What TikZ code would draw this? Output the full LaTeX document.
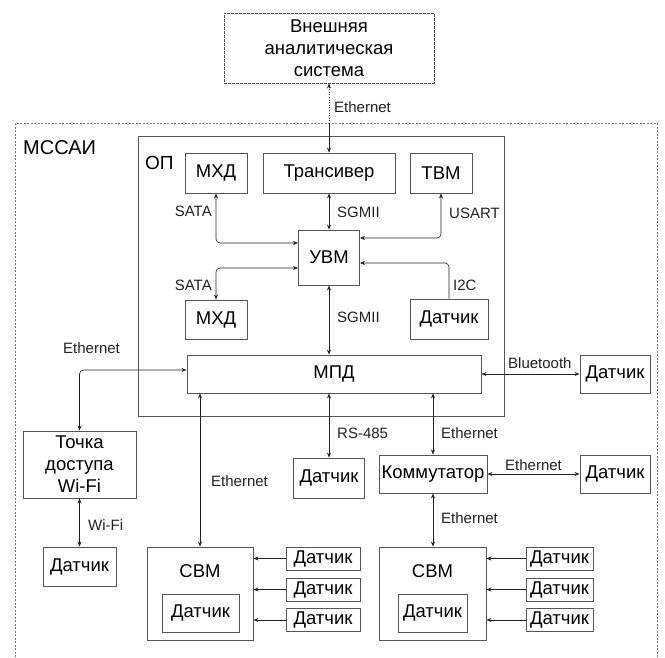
\documentclass[tikz,border=0pt]{standalone}
\usepackage{fontspec}
\setmainfont{Liberation Sans}
\usetikzlibrary{arrows.meta}
\definecolor{edgec}{HTML}{555555}
\definecolor{linec}{HTML}{222222}
\definecolor{framec}{HTML}{777777}
\begin{document}
\begin{tikzpicture}[x=1pt,y=-1pt,
  box/.style={draw=edgec, line width=0.9pt, inner sep=0pt, align=center,
    font=\fontsize{18.5}{22}\selectfont},
  plain/.style={inner sep=0pt, font=\fontsize{18.5}{22}\selectfont},
  lbl/.style={inner sep=0pt, text=linec, font=\fontsize{15}{17}\selectfont},
  conn/.style={draw=linec, line width=0.6pt, rounded corners=4pt},
  both/.style={conn, {Stealth[length=5pt,width=4pt]}-{Stealth[length=5pt,width=4pt]}},
  tip/.style={conn, -{Stealth[length=5pt,width=4pt]}},
  frame/.style={draw=framec, line width=0.7pt, dash pattern=on 2pt off 1.5pt}
]
\useasboundingbox (0,0) rectangle (665,657);
\fill[white] (0,0) rectangle (665,657);

% outer system frame (open at the bottom)
\draw[frame] (15,657) -- (15,123) -- (657,123) -- (657,657);
\node[plain, anchor=west, font=\fontsize{20}{22}\selectfont] (mssai) at (23,148) {МССАИ};

% external analytics system
\node[box, dash pattern=on 3pt off 1pt, minimum width=210, minimum height=70] (ext) at (329,48)
  {Внешняя\\аналитическая\\система};

% main board
\node[box, minimum width=366, minimum height=280] (op) at (321,276) {};
\node[plain, anchor=west, font=\fontsize{19}{22}\selectfont] (opt) at (145,163) {ОП};

\node[box, minimum width=62, minimum height=40] (mhd1) at (216,173) {МХД};
\node[box, minimum width=132, minimum height=40] (trans) at (329,173) {Трансивер};
\node[box, minimum width=62, minimum height=40] (tvm) at (441,173) {ТВМ};
\node[box, minimum width=61, minimum height=55] (uvm) at (329,257.5) {УВМ};
\node[box, minimum width=62, minimum height=39] (mhd2) at (216,319.5) {МХД};
\node[box, minimum width=78, minimum height=40] (di2c) at (449,319) {Датчик};
\node[box, minimum width=294, minimum height=38] (mpd) at (334,374) {МПД};

% peripheral devices
\node[box, minimum width=70, minimum height=38] (dbt) at (615,374) {Датчик};
\node[box, minimum width=113, minimum height=67] (ap) at (79.5,464.5) {Точка\\доступа\\Wi-Fi};
\node[box, minimum width=73, minimum height=39] (dwifi) at (79.5,566.5) {Датчик};
\node[box, minimum width=71, minimum height=40] (d485) at (329,478) {Датчик};
\node[box, minimum width=108, minimum height=38] (komm) at (433,474) {Коммутатор};
\node[box, minimum width=70, minimum height=38] (deth) at (615,474) {Датчик};

% secondary computing modules
\node[box, minimum width=106, minimum height=93] (cbm1) at (200,593.5) {};
\node[plain] (cbm1t) at (200,571) {СВМ};
\node[box, minimum width=77, minimum height=38] (cbm1d) at (200.5,613) {Датчик};
\node[box, minimum width=74, minimum height=23] (s1a) at (323,558.5) {Датчик};
\node[box, minimum width=74, minimum height=23] (s1b) at (323,589.5) {Датчик};
\node[box, minimum width=74, minimum height=23] (s1c) at (323,620) {Датчик};

\node[box, minimum width=107, minimum height=93] (cbm2) at (432.5,593.5) {};
\node[plain] (cbm2t) at (432.5,571) {СВМ};
\node[box, minimum width=69, minimum height=38] (cbm2d) at (432.5,613) {Датчик};
\node[box, minimum width=67, minimum height=23] (s2a) at (559.5,558.5) {Датчик};
\node[box, minimum width=67, minimum height=23] (s2b) at (559.5,589.5) {Датчик};
\node[box, minimum width=67, minimum height=23] (s2c) at (559.5,620) {Датчик};

% external link: dotted outside the frame, solid inside
\coordinate (cross) at (329,123);
\draw[conn, dotted, line width=0.7pt, {Stealth[length=5pt,width=4pt]}-] (ext.south) -- (cross);
\draw[tip] (cross) -- (trans.north);

% board internal links
\draw[both] (trans.south) -- (uvm.north);
\draw[both] (mhd1.south) |- ([yshift=14.5pt]uvm.west);
\draw[both] (tvm.south) |- ([yshift=19.5pt]uvm.east);
\draw[both] ([yshift=-10.5pt]uvm.west) -| (mhd2.north);
\draw[tip] (di2c.north) |- ([yshift=-5.5pt]uvm.east);
\draw[both] (uvm.south) -- (uvm.south |- mpd.north);

% links from the data transfer module
\draw[both] ([yshift=4pt]mpd.west) -| (ap.north);
\draw[both] (ap.south) -- (dwifi.north);
\draw[both] (mpd.east) -- (dbt.west);
\draw[both] (cbm1.north |- mpd.south) -- (cbm1.north);
\draw[both] (d485.north |- mpd.south) -- (d485.north);
\draw[both] (komm.north |- mpd.south) -- (komm.north);
\draw[both] (komm.east) -- (deth.west);
\draw[both] (komm.south) -- (komm.south |- cbm2.north);

% sensors feeding the secondary modules
\foreach \s in {s1a,s1b,s1c} \draw[tip] (\s.west) -- (\s.west -| cbm1.east);
\foreach \s in {s2a,s2b,s2c} \draw[tip] (\s.west) -- (\s.west -| cbm2.east);

% link labels
\node[lbl, anchor=west] (l1) at (334,107) {Ethernet};
\node[lbl, anchor=west] (l2) at (337,212) {SGMII};
\node[lbl, anchor=east] (l3) at (212,211) {SATA};
\node[lbl, anchor=west] (l4) at (449,213) {USART};
\node[lbl, anchor=east] (l5) at (212,285) {SATA};
\node[lbl, anchor=west] (l6) at (453,285) {I2C};
\node[lbl, anchor=west] (l7) at (337,317) {SGMII};
\node[lbl, anchor=west] (l8) at (63,348) {Ethernet};
\node[lbl, anchor=west] (l9) at (508,363) {Bluetooth};
\node[lbl, anchor=west] (l10) at (337,433) {RS-485};
\node[lbl, anchor=west] (l11) at (441,433) {Ethernet};
\node[lbl, anchor=west] (l12) at (505,465) {Ethernet};
\node[lbl, anchor=west] (l13) at (211,481) {Ethernet};
\node[lbl, anchor=west] (l14) at (88,525) {Wi-Fi};
\node[lbl, anchor=west] (l15) at (441,518) {Ethernet};
\end{tikzpicture}
\end{document}
